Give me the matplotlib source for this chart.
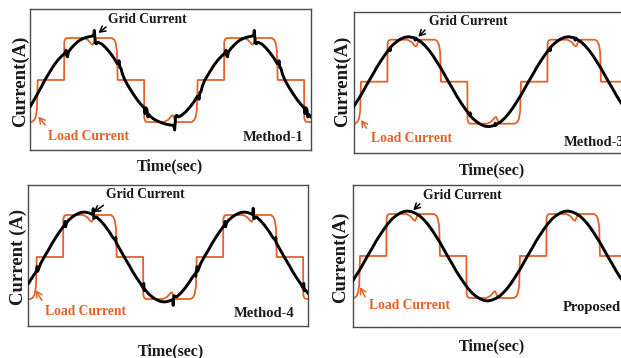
import numpy as np
import matplotlib.pyplot as plt

plt.rcParams['font.family'] = ['Liberation Serif', 'DejaVu Serif']

ORANGE = '#E3622A'
TEXT = '#1a1a1a'

# time in ms, currents scaled so the load plateau is 1.0
load_pts = [
    (-1.2, -1.0), (-0.75, -1.0), (-0.45, -0.96), (-0.25, -0.88), (-0.1, -0.70), (0.0, 0.0),
    (3.3, 0.0), (3.32, 0.90), (3.45, 0.98), (3.7, 1.0), (5.8, 1.0), (6.3, 0.95), (6.75, 0.85),
    (6.9, 0.84), (7.15, 0.95), (7.35, 1.0), (9.25, 1.0), (9.55, 0.96), (9.75, 0.88), (9.9, 0.70), (10.0, 0.0),
    (13.3, 0.0), (13.32, -0.90), (13.45, -0.98), (13.7, -1.0), (15.8, -1.0), (16.3, -0.95), (16.75, -0.85),
    (16.9, -0.84), (17.15, -0.95), (17.35, -1.0), (19.25, -1.0), (19.55, -0.96), (19.75, -0.88), (19.9, -0.70), (20.0, 0.0),
    (23.3, 0.0), (23.32, 0.90), (23.45, 0.98), (23.7, 1.0), (25.8, 1.0), (26.3, 0.95), (26.75, 0.85),
    (26.9, 0.84), (27.15, 0.95), (27.35, 1.0), (29.25, 1.0), (29.55, 0.96), (29.75, 0.88), (29.9, 0.70), (30.0, 0.0),
    (33.3, 0.0), (33.32, -0.90), (33.45, -0.98), (33.7, -1.0), (35.0, -1.0),
]

# clean grid current, sampled every 0.5 ms
t_smooth = np.arange(-1.0, 34.6, 0.5)
grid_smooth = [
    -0.62, -0.47,
    -0.32, -0.15, 0.02, 0.18, 0.35, 0.50, 0.64, 0.77, 0.88, 0.96,
    1.02, 1.06, 1.07, 1.05, 1.01, 0.95, 0.86, 0.75, 0.62, 0.47,
    0.32, 0.15, -0.02, -0.18, -0.35, -0.50, -0.64, -0.77, -0.88, -0.96,
    -1.02, -1.06, -1.07, -1.05, -1.01, -0.95, -0.86, -0.75, -0.62, -0.47,
    -0.32, -0.15, 0.02, 0.18, 0.35, 0.50, 0.64, 0.77, 0.88, 0.96,
    1.02, 1.06, 1.07, 1.05, 1.01, 0.95, 0.86, 0.75, 0.62, 0.47,
    0.32, 0.15, -0.02, -0.18, -0.35, -0.50, -0.64, -0.77, -0.88, -0.96,
]

# Method-1 grid current (heavily distorted)
m1_pts = [
    (-0.9, -0.62), (-0.5, -0.49), (0.0, -0.32), (0.5, -0.15), (0.9, 0.0), (1.5, 0.19), (2.0, 0.34),
    (2.5, 0.47), (3.0, 0.57), (3.4, 0.64), (3.55, 0.71), (3.62, 0.58), (3.72, 0.55), (3.85, 0.67),
    (4.2, 0.76), (4.7, 0.86), (5.2, 0.94), (5.7, 0.99), (6.2, 1.02), (6.7, 1.04), (7.0, 1.06),
    (7.08, 1.18), (7.2, 0.88), (7.35, 0.86), (7.5, 0.90), (8.0, 0.86), (8.5, 0.77), (9.0, 0.66),
    (9.5, 0.53), (9.95, 0.39), (10.1, 0.40), (10.17, 0.46), (10.27, 0.30), (10.4, 0.28), (10.6, 0.14),
    (10.9, 0.0), (11.4, -0.17), (11.9, -0.32), (12.4, -0.46), (12.9, -0.58), (13.3, -0.66),
    (13.42, -0.80), (13.52, -0.66), (13.65, -0.70), (13.78, -0.88), (13.9, -0.82), (14.1, -0.87),
    (14.5, -0.93), (15.0, -0.98), (15.5, -1.02), (16.0, -1.05), (16.5, -1.07), (17.0, -1.08),
    (17.12, -1.19), (17.25, -0.86), (17.4, -0.84), (17.6, -0.88), (18.0, -0.84), (18.5, -0.76),
    (19.0, -0.65), (19.5, -0.53), (19.95, -0.39), (20.1, -0.40), (20.17, -0.46), (20.27, -0.30),
    (20.4, -0.28), (20.6, -0.14), (20.9, 0.0), (21.5, 0.19), (22.0, 0.34), (22.5, 0.47), (23.0, 0.57),
    (23.4, 0.64), (23.55, 0.71), (23.62, 0.58), (23.72, 0.55), (23.85, 0.67), (24.2, 0.76), (24.7, 0.86),
    (25.2, 0.94), (25.7, 0.99), (26.2, 1.02), (26.7, 1.04), (27.0, 1.06), (27.08, 1.18), (27.2, 0.88),
    (27.35, 0.86), (27.5, 0.90), (28.0, 0.86), (28.5, 0.77), (29.0, 0.66), (29.5, 0.53), (29.95, 0.39),
    (30.1, 0.40), (30.17, 0.46), (30.27, 0.30), (30.4, 0.28), (30.6, 0.14), (30.9, 0.0), (31.4, -0.17),
    (31.9, -0.32), (32.4, -0.46), (32.9, -0.58), (33.3, -0.66), (33.42, -0.80), (33.52, -0.66),
    (33.65, -0.70), (33.78, -0.88), (33.9, -0.82), (34.1, -0.87), (34.5, -0.93),
]

# Method-3: small kinks on the sine
m3_ticks = [
    (3.6, 0.80), (3.65, 0.74), (3.7, 0.82), (6.7, 1.04), (6.78, 0.99), (6.85, 1.04),
    (13.6, -0.80), (13.65, -0.74), (13.7, -0.82), (16.7, -1.04), (16.78, -0.99), (16.85, -1.04),
    (23.6, 0.80), (23.65, 0.74), (23.7, 0.82), (26.7, 1.04), (26.78, 0.99), (26.85, 1.04),
    (33.6, -0.80), (33.65, -0.74), (33.7, -0.82),
]

# Method-4: notches at the load steps and spikes near the peaks
m4_notches = [
    (0.05, -0.23), (0.12, -0.34), (3.55, 0.85), (3.62, 0.72), (3.72, 0.81),
    (7.06, 1.15), (7.14, 0.92), (7.3, 0.94), (9.82, 0.40), (9.88, 0.46), (9.94, 0.33),
    (13.3, -0.74), (13.38, -0.63), (13.45, -0.80), (17.06, -1.15), (17.14, -0.92), (17.3, -0.94),
    (19.82, -0.40), (19.88, -0.46), (19.94, -0.33), (20.05, -0.23), (20.12, -0.34),
    (23.55, 0.85), (23.62, 0.72), (23.72, 0.81), (27.06, 1.16), (27.14, 0.91), (27.3, 0.93),
    (29.82, 0.40), (29.88, 0.46), (29.94, 0.33), (33.3, -0.74), (33.38, -0.63), (33.45, -0.80),
]


def with_extra(extra):
    return sorted(list(zip(t_smooth, grid_smooth)) + extra)


panels = [
    dict(grid=m1_pts, rect=[0.0491, 0.581, 0.4525, 0.393], xlim=(-0.9, 34.23), ylim=(-1.667, 1.683),
         ylabel='Current(A)', ylab_xy=(0.0322, 0.774), xlab_xy=(0.2738, 0.5344),
         tag='Method-1', tag_xy=(0.97, 0.092), tag_ha='right',
         grid_txt=(0.276, 0.929), grid_tail=(0.269, 0.874), grid_head=(7.6, 1.12),
         load_txt=(0.062, 0.0995), load_tail=(0.052, 0.178), load_head=(0.08, -0.87)),
    dict(grid=with_extra(m3_ticks), rect=[0.570, 0.5718, 0.4525, 0.3955], xlim=(-0.875, 34.25), ylim=(-1.705, 1.667),
         ylabel='Current(A)', ylab_xy=(0.5515, 0.774), xlab_xy=(0.7918, 0.5251),
         tag='Method-3', tag_xy=(0.747, 0.073), tag_ha='left',
         grid_txt=(0.267, 0.929), grid_tail=(0.253, 0.871), grid_head=(7.16, 1.07),
         load_txt=(0.060, 0.102), load_tail=(0.045, 0.177), load_head=(0.0, -0.91)),
    dict(grid=with_extra(m4_notches), rect=[0.0456, 0.0885, 0.4509, 0.3939], xlim=(-1.05, 33.95), ylim=(-1.65, 1.707),
         ylabel='Current (A)', ylab_xy=(0.0295, 0.2821), xlab_xy=(0.275, 0.0187),
         tag='Method-4', tag_xy=(0.952, 0.094), tag_ha='right',
         grid_txt=(0.277, 0.933), grid_tail=(0.268, 0.858), grid_head=(7.08, 1.06),
         load_txt=(0.06, 0.106), load_tail=(0.048, 0.184), load_head=(-0.13, -0.79)),
    dict(grid=list(zip(t_smooth, grid_smooth)), rect=[0.5689, 0.0858, 0.4525, 0.3966], xlim=(-0.84, 34.29), ylim=(-1.698, 1.683),
         ylabel='Current(A)', ylab_xy=(0.549, 0.2821), xlab_xy=(0.7918, 0.0327),
         tag='Proposed', tag_xy=(0.746, 0.136), tag_ha='left',
         grid_txt=(0.248, 0.930), grid_tail=(0.237, 0.870), grid_head=(6.66, 1.09),
         load_txt=(0.056, 0.150), load_tail=(0.042, 0.214), load_head=(0.0, -0.74)),
]

load_t, load_i = zip(*load_pts)

fig = plt.figure(figsize=(6.21, 3.58), dpi=100)
for p in panels:
    ax = fig.add_axes(p['rect'])
    ax.plot(load_t, load_i, color=ORANGE, lw=1.3, zorder=2)
    gt, gi = zip(*p['grid'])
    ax.plot(gt, gi, color='black', lw=2.1, zorder=3)
    ax.set_xlim(*p['xlim'])
    ax.set_ylim(*p['ylim'])
    ax.set_xticks([])
    ax.set_yticks([])
    for s in ax.spines.values():
        s.set_color('#4a4a4a')
        s.set_linewidth(1.0)

    ax.text(*p['grid_txt'], 'Grid Current', transform=ax.transAxes, fontsize=9.8,
            fontweight='bold', color=TEXT, ha='left', va='center')
    ax.annotate('', xy=p['grid_head'], xycoords='data', xytext=p['grid_tail'],
                textcoords='axes fraction',
                arrowprops=dict(arrowstyle='->,head_length=0.4,head_width=0.22',
                                color='black', lw=1.1, shrinkA=0, shrinkB=0))
    ax.text(*p['load_txt'], 'Load Current', transform=ax.transAxes, fontsize=9.8,
            fontweight='bold', color=ORANGE, ha='left', va='center')
    ax.annotate('', xy=p['load_head'], xycoords='data', xytext=p['load_tail'],
                textcoords='axes fraction',
                arrowprops=dict(arrowstyle='->,head_length=0.4,head_width=0.22',
                                color=ORANGE, lw=1.1, shrinkA=0, shrinkB=0))
    ax.text(*p['tag_xy'], p['tag'], transform=ax.transAxes, fontsize=10.5,
            fontweight='bold', color=TEXT, ha=p['tag_ha'], va='center')

    fig.text(*p['ylab_xy'], p['ylabel'], rotation=90, ha='center', va='center',
             fontsize=13.5, fontweight='bold', color=TEXT)
    fig.text(*p['xlab_xy'], 'Time(sec)', ha='center', va='center',
             fontsize=11.5, fontweight='bold', color=TEXT)

fig.savefig('out.png', dpi=100)
